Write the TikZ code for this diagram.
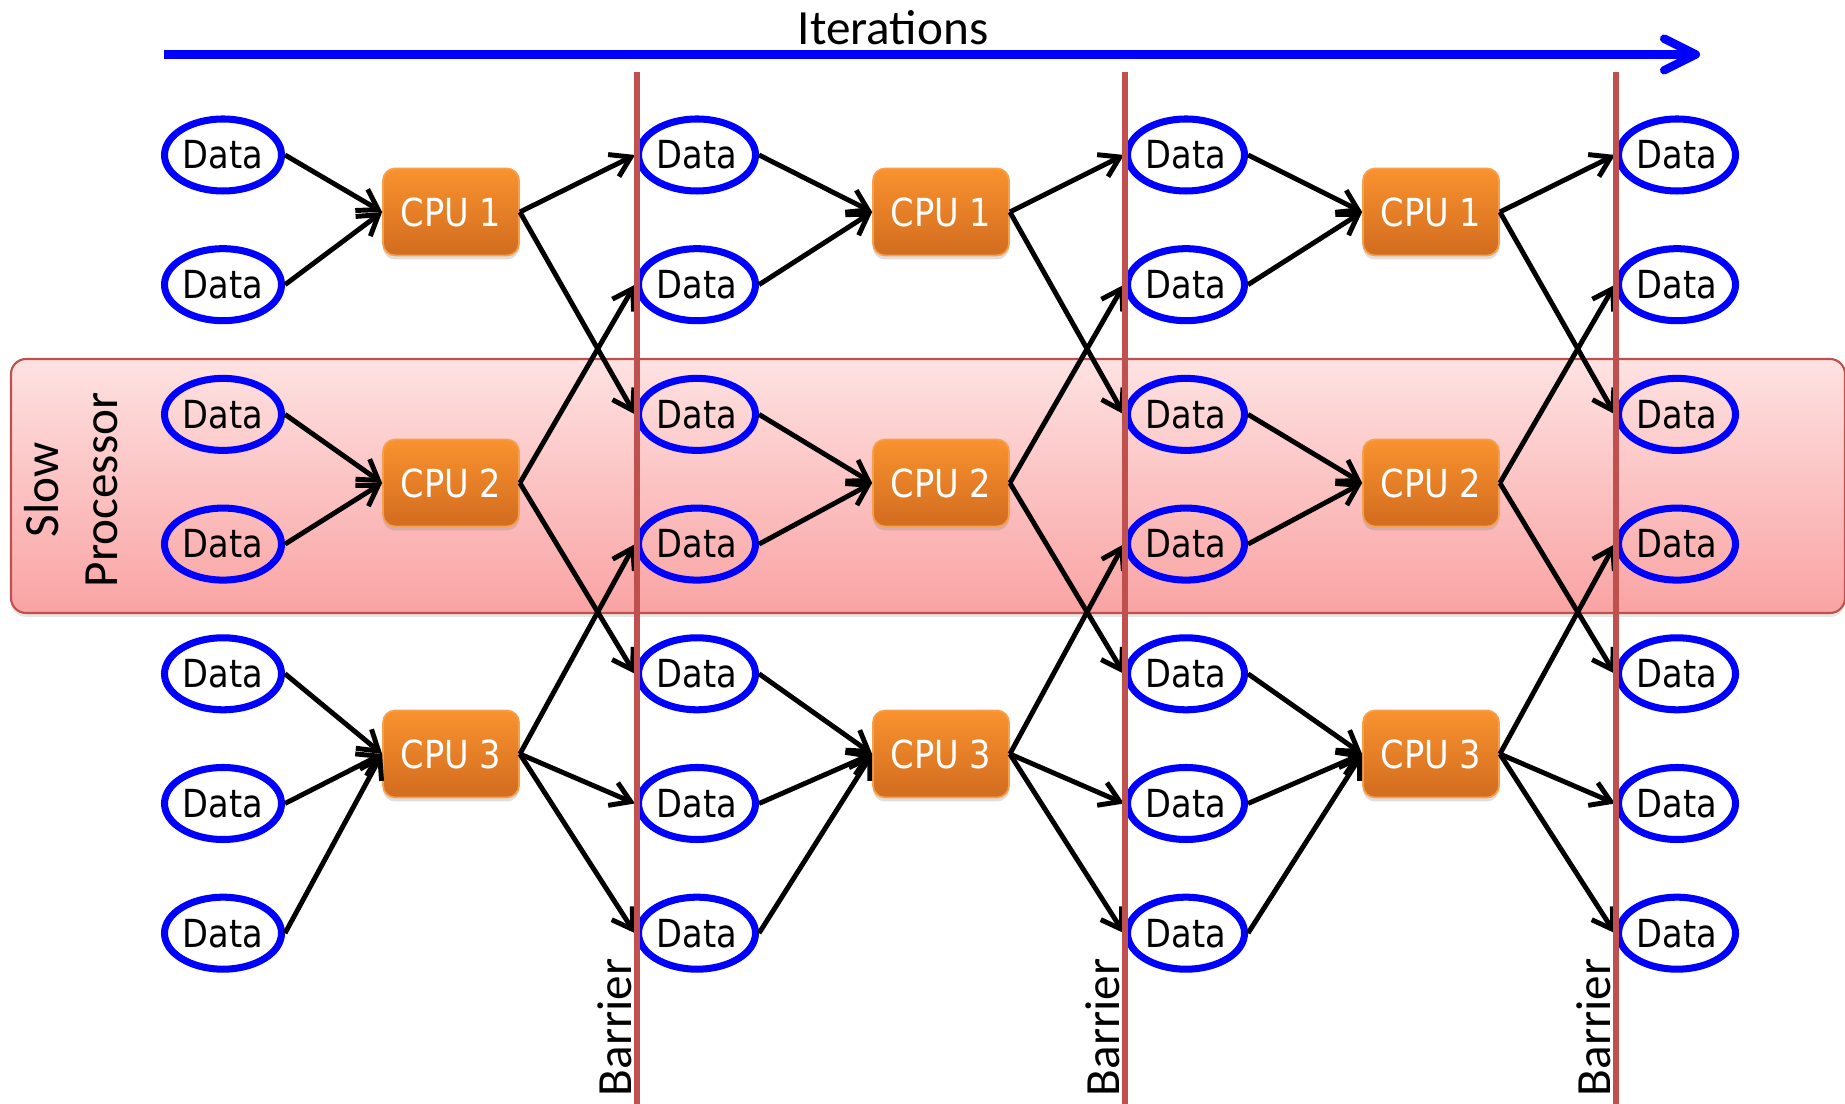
\documentclass[tikz,border=0pt]{standalone}
\usepackage{fontspec}
\setmainfont{Carlito}
\newfontfamily\datafont[FakeStretch=0.87]{DejaVu Sans}
\usetikzlibrary{arrows.meta,shadows,shapes.geometric}

\definecolor{barriercol}{HTML}{C0504D}
\definecolor{cputop}{HTML}{F9922E}
\definecolor{cpubot}{HTML}{D26C1F}
\definecolor{cpuline}{HTML}{F6A04E}
\definecolor{slowtop}{HTML}{FEE2E2}
\definecolor{slowbot}{HTML}{FAA3A3}

\tikzset{
    data/.style={ellipse, draw=blue, line width=2pt, minimum width=1.17cm,
        minimum height=0.72cm, inner sep=0pt,
        font=\datafont\fontsize{11pt}{13pt}\selectfont},
    cpu/.style={rectangle, rounded corners=0.12cm, draw=cpuline, line width=0.5pt,
        top color=cputop, bottom color=cpubot, text=white,
        minimum width=1.36cm, minimum height=0.87cm,
        drop shadow={opacity=0.25, shadow xshift=0pt, shadow yshift=-0.04cm},
        font=\datafont\fontsize{11pt}{13pt}\selectfont},
    flow/.style={line width=1.4pt, -{Straight Barb[length=5.5pt,width=7pt]}},
    barrier/.style={draw=barriercol, line width=1.45pt},
    label/.style={inner sep=0pt, font=\fontsize{14pt}{17pt}\selectfont}
}

\begin{document}
\begin{tikzpicture}
    \useasboundingbox (0,0) rectangle (18.45,-11.04);

    % slow processor band
    \draw[barriercol, line width=0.6pt, rounded corners=0.15cm, top color=slowtop, bottom color=slowbot,
        drop shadow={opacity=0.2, shadow xshift=0pt, shadow yshift=-0.04cm}]
        (0.11,-3.59) rectangle (18.45,-6.13);
    \node[label, rotate=90, align=center] (slow) at (0.71,-4.90) {Slow\\Processor};

    % iterations arrow
    \coordinate (itstart) at (1.64,-0.545);
    \coordinate (itend) at (17.0,-0.545);
    \draw[blue, line width=2.4pt, -{Straight Barb[length=9pt,width=9pt,round]}] (itstart) -- (itend);
    \node[label, anchor=base] (iter) at (8.93,-0.45) {Iterations};

    % data and cpus
    \foreach \col/\x in {0/2.23,1/6.97,2/11.86,3/16.77}
        \foreach \r in {0,...,6}
            \node[data] (d\col-\r) at (\x,{-1.55-1.297*\r}) {Data};
    \foreach \col/\x in {0/4.51,1/9.41,2/14.31}
        \foreach \k/\y in {1/-2.12,2/-4.83,3/-7.54}
            \node[cpu] (cpu\col-\k) at (\x,\y) {CPU \k};

    \foreach \col in {0,1,2}
        \foreach \r/\k in {0/1,1/1,2/2,3/2,4/3,5/3,6/3}
            \draw[flow] (d\col-\r.east) -- (cpu\col-\k.west);
    \foreach \col/\n in {0/1,1/2,2/3}
        \foreach \k/\r in {1/0,1/2,2/1,2/4,3/3,3/5,3/6}
            \draw[flow] (cpu\col-\k.east) -- (d\n-\r.west);

    % barriers
    \foreach \b/\x in {1/6.37,2/11.25,3/16.16} {
        \coordinate (bar\b top) at (\x,-0.72);
        \coordinate (bar\b bot) at (\x,-11.04);
        \draw[barrier] (bar\b top) -- (bar\b bot);
        \node[label, rotate=90, anchor=base west] (bar\b lab) at (\x-0.06,-10.97) {Barrier};
    }
\end{tikzpicture}
\end{document}
